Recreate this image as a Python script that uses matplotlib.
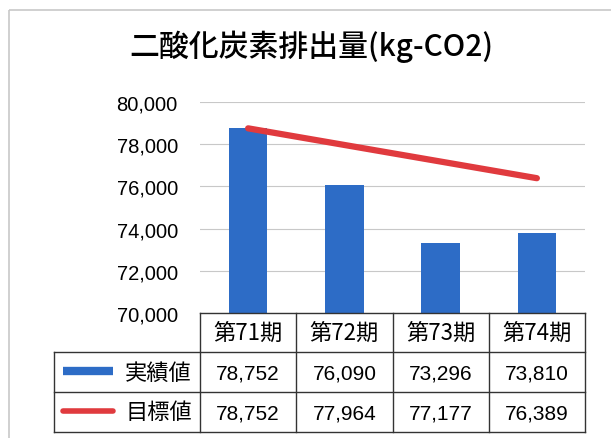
import matplotlib
matplotlib.use('Agg')
import matplotlib.pyplot as plt
from matplotlib.transforms import Affine2D
from matplotlib.lines import Line2D
from matplotlib.patches import Rectangle

periods = ['第71期', '第72期', '第73期', '第74期']
actual = [78752, 76090, 73296, 73810]
target = [78752, 77964, 77177, 76389]
series_names = ['実績値', '目標値']
yticks = [70000, 72000, 74000, 76000, 78000, 80000]

W, H = 611, 439
blue = '#2d6cc6'
red = '#e03a3e'
cjk = ['Noto Sans CJK JP', 'DejaVu Sans']
num = 'Liberation Sans'

fig = plt.figure(figsize=(W / 100, H / 100), dpi=100)
# pixel coordinates measured from the top-left corner
px = Affine2D().scale(1 / W, -1 / H).translate(0, 1) + fig.transFigure

# plot area
left, right, top, bottom = 200, 585, 103, 314
ax = fig.add_axes([left / W, 1 - bottom / H, (right - left) / W, (bottom - top) / H])
x = range(len(periods))
ax.bar(x, actual, width=0.4, color=blue, zorder=2)
ax.plot(x, target, color=red, lw=4.5, solid_capstyle='round', zorder=3)
ax.set_xlim(-0.5, len(periods) - 0.5)
ax.set_ylim(70000, 80000)
ax.set_yticks(yticks)
ax.set_yticklabels([f'{v:,}' for v in yticks], fontsize=14.5, fontfamily=num)
ax.set_xticks([])
ax.tick_params(axis='y', length=0, pad=16)
ax.grid(axis='y', color='#c8c8c8', lw=0.8, zorder=0)
for s in ax.spines.values():
    s.set_visible(False)

# title
fig.text(311 / W, 1 - 47 / H, '二酸化炭素排出量(kg-CO2)', ha='center', va='center',
         fontsize=21.5, family=cjk, fontweight='medium')

# outer frame
fig.patches.append(Rectangle((9, 11), 700, 500, transform=px, fill=False,
                             ec='#c8c8c8', lw=1.2))

# data table
col_w = (right - left) / len(periods)
cols = [left + i * col_w for i in range(len(periods) + 1)]
rows = [314, 353, 393, 433]
tleft = 54
lc = '#333333'
lines = []
for yy in rows:
    x0 = left if yy == rows[0] else tleft
    lines.append(([x0, right], [yy, yy]))
for xx in cols:
    lines.append(([xx, xx], [rows[0], rows[-1]]))
lines.append(([tleft, tleft], [rows[1], rows[-1]]))
for xs, ys in lines:
    fig.add_artist(Line2D(xs, ys, transform=px, color=lc, lw=1.0))

for i, p in enumerate(periods):
    cx = (cols[i] + cols[i + 1]) / 2
    fig.text(cx, (rows[0] + rows[1]) / 2, p, transform=px, ha='center', va='center',
             fontsize=16, family=cjk)
    for r, vals in enumerate([actual, target]):
        fig.text(cx, (rows[r + 1] + rows[r + 2]) / 2 + 1, f'{vals[i]:,}', transform=px,
                 ha='center', va='center', fontsize=15, family=num)

for r, (name, color, lw) in enumerate(zip(series_names, [blue, red], [6, 4])):
    cy = (rows[r + 1] + rows[r + 2]) / 2
    fig.add_artist(Line2D([63, 113], [cy - 1, cy - 1], transform=px, color=color, lw=lw,
                          solid_capstyle='butt' if r == 0 else 'round'))
    fig.text(192, cy, name, transform=px, ha='right', va='center', fontsize=16, family=cjk)

fig.savefig('out.png', dpi=100)
